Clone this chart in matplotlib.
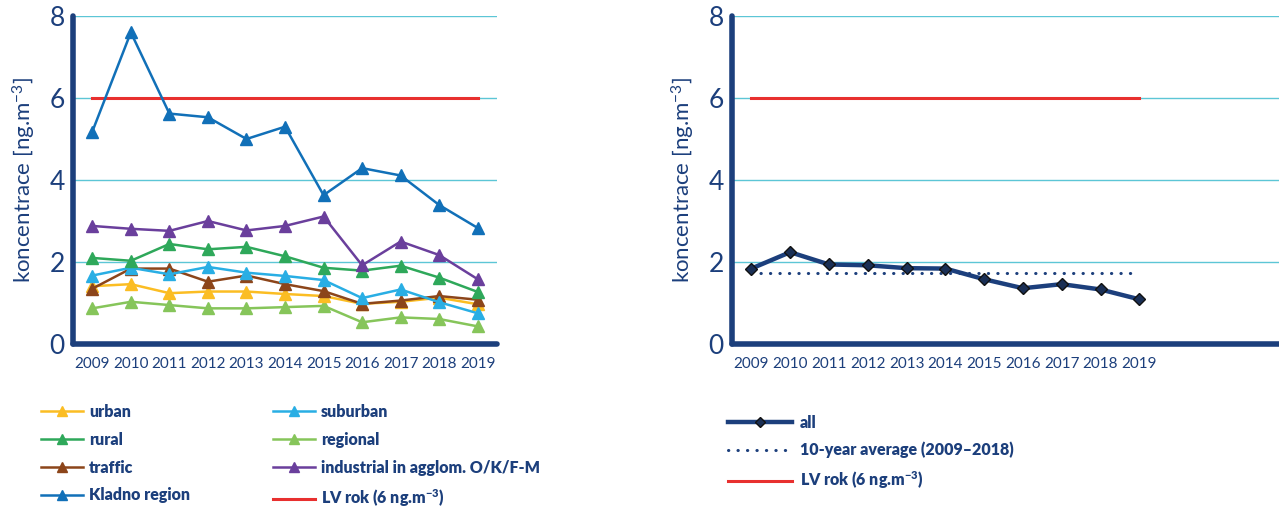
import matplotlib
matplotlib.use("Agg")
import matplotlib.pyplot as plt

plt.rcParams['font.family'] = ['Lato', 'DejaVu Sans']
plt.rcParams['mathtext.default'] = 'regular'

years = [2009, 2010, 2011, 2012, 2013, 2014, 2015, 2016, 2017, 2018, 2019]

urban = [1.41, 1.46, 1.24, 1.28, 1.28, 1.22, 1.17, 0.98, 1.03, 1.13, 0.97]
suburban = [1.67, 1.86, 1.70, 1.88, 1.74, 1.66, 1.56, 1.12, 1.33, 1.02, 0.75]
rural = [2.10, 2.03, 2.44, 2.31, 2.37, 2.14, 1.86, 1.79, 1.91, 1.62, 1.27]
regional = [0.87, 1.03, 0.95, 0.87, 0.87, 0.90, 0.93, 0.53, 0.65, 0.61, 0.43]
traffic = [1.35, 1.84, 1.84, 1.52, 1.67, 1.46, 1.29, 0.98, 1.06, 1.17, 1.08]
industrial = [2.88, 2.81, 2.76, 3.00, 2.77, 2.88, 3.11, 1.92, 2.50, 2.17, 1.58]
kladno = [5.18, 7.60, 5.62, 5.53, 5.00, 5.30, 3.63, 4.29, 4.11, 3.39, 2.83]
all_stations = [1.84, 2.24, 1.94, 1.92, 1.85, 1.84, 1.58, 1.36, 1.46, 1.33, 1.09]
avg_10y = 1.72
limit = 6

navy = '#1c3f7c'
grid_c = '#5cc6d6'
red = '#e8302f'

series = [
    ('urban', urban, '#fbbd23'),
    ('rural', rural, '#2ea85a'),
    ('traffic', traffic, '#8c451a'),
    ('Kladno region', kladno, '#1170b8'),
    ('suburban', suburban, '#29aee4'),
    ('regional', regional, '#86c55a'),
    ('industrial in agglom. O/K/F-M', industrial, '#6a3f9c'),
]
draw_order = ['regional', 'urban', 'traffic', 'suburban', 'rural', 'industrial in agglom. O/K/F-M', 'Kladno region']

fig = plt.figure(figsize=(12.79, 5.08), dpi=100)
ax1 = fig.add_axes([0.0571, 0.3228, 0.3315, 0.6457])
ax2 = fig.add_axes([0.5723, 0.3228, 0.4277, 0.6457])


def style_axis(ax, xmax):
    ax.set_xlim(2008.5, xmax)
    ax.set_ylim(0, 8)
    ax.set_yticks([0, 2, 4, 6, 8])
    ax.set_xticks(years)
    ax.tick_params(length=0, colors=navy)
    ax.tick_params(axis='y', labelsize=19, pad=6)
    ax.tick_params(axis='x', labelsize=11, pad=9)
    for s in ['top', 'right']:
        ax.spines[s].set_visible(False)
    for s in ['left', 'bottom']:
        ax.spines[s].set_color(navy)
        ax.spines[s].set_linewidth(4)
        ax.spines[s].set_capstyle('round')
    for y in [2, 4, 6, 8]:
        ax.axhline(y, color=grid_c, lw=1, zorder=0)
    ax.set_ylabel('koncentrace [ng.m$^{-3}$]', color=navy, fontsize=16, labelpad=8)


style_axis(ax1, 2019.5)
style_axis(ax2, 2022.6)

handles = {}
for name, vals, col in series:
    z = 3 + draw_order.index(name)
    h, = ax1.plot(years, vals, color=col, lw=1.8, marker='^', markersize=9, zorder=z, label=name)
    handles[name] = h
lv1, = ax1.plot([years[0], years[-1]], [limit, limit], color=red, lw=2.2, zorder=2,
                label='LV rok (6 ng.m$^{-3}$)')

h_all, = ax2.plot(years, all_stations, color=navy, lw=3.2, marker='D', markersize=6,
                  markerfacecolor='#1a2f55', markeredgecolor='#111111', zorder=4, label='all')
h_avg, = ax2.plot([years[0], years[-1]], [avg_10y, avg_10y], color=navy, lw=2.2,
                  linestyle=(0, (0.1, 3)), dash_capstyle='round', zorder=3,
                  label='10-year average (2009\u20132018)')
lv2, = ax2.plot([years[0], years[-1]], [limit, limit], color=red, lw=2.2, zorder=2,
                label='LV rok (6 ng.m$^{-3}$)')

order = ['urban', 'rural', 'traffic', 'Kladno region', 'suburban', 'regional',
         'industrial in agglom. O/K/F-M']
leg_handles = [handles[n] for n in order] + [lv1]
fig.legend(handles=leg_handles, ncol=2, loc='upper left', bbox_to_anchor=(0.021, 0.233),
           frameon=False, prop={'weight': 'heavy', 'size': 11.5}, labelcolor=navy,
           handlelength=2.6, labelspacing=0.74, columnspacing=5.2, markerscale=0.8,
           handletextpad=0.4)

fig.legend(handles=[h_all, h_avg, lv2], loc='upper left', bbox_to_anchor=(0.558, 0.212),
           frameon=False, prop={'weight': 'heavy', 'size': 11.5}, labelcolor=navy,
           handlelength=4.0, labelspacing=0.7, markerscale=0.8, handletextpad=0.5)

fig.savefig('out.png', dpi=100)
